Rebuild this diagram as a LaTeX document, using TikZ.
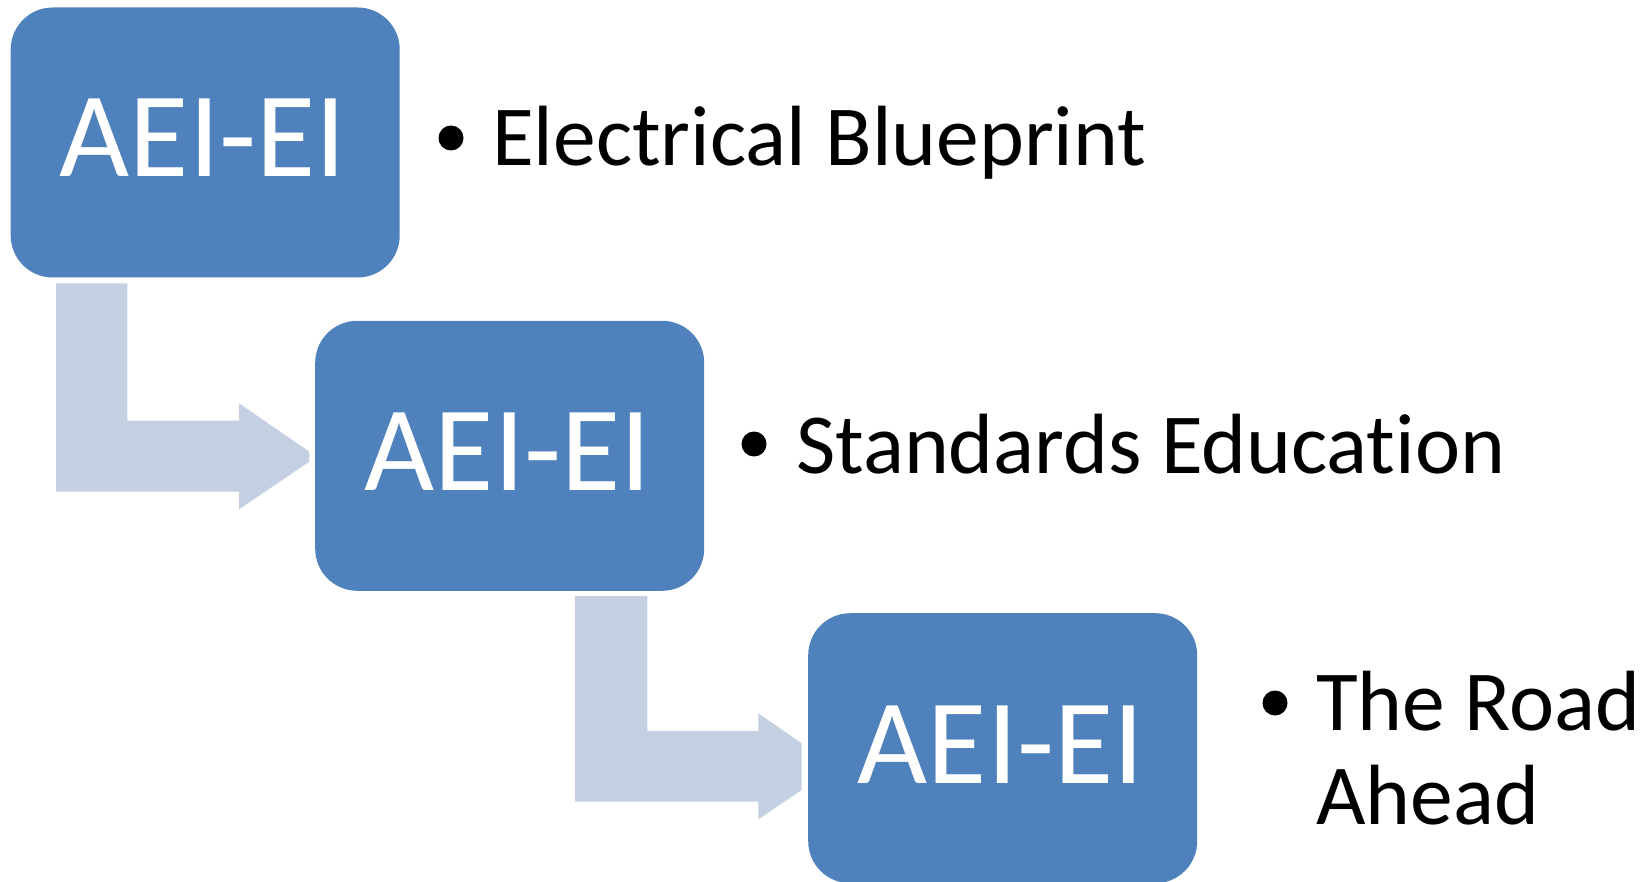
\documentclass[tikz,border=0pt]{standalone}
\usepackage{fontspec}
\setmainfont{Carlito}[Ligatures=NoCommon]
\definecolor{boxblue}{RGB}{79,129,189}
\definecolor{arrowblue}{RGB}{196,207,226}
\begin{document}
\begin{tikzpicture}[x=1pt,y=-1pt,
  stagebox/.style={fill=boxblue, rounded corners=42pt, minimum width=389pt, minimum height=270pt, inner sep=0pt, draw=none, anchor=north west},
  boxlabel/.style={text=white, font=\fontsize{121}{121}\selectfont, inner sep=0pt, anchor=base},
  bullettext/.style={font=\fontsize{85.5}{94}\selectfont, inner sep=0pt, anchor=base west},
  bulletdot/.style={circle, fill=black, minimum size=25pt, inner sep=0pt},
  bentarrow/.style={fill=arrowblue}]
\useasboundingbox (0,0) rectangle (1643,882);
% bent arrows
\fill[bentarrow] (56,283.3) -- (127.3,283.3) -- (127.3,420.7) -- (239,420.7) -- (239,403.3) -- (309.3,451.7) -- (309.3,461.7) -- (239,509.3) -- (239,491.7) -- (56,491.7) -- cycle;
\fill[bentarrow] (575,596) -- (647.3,596) -- (647.3,731) -- (758.3,731) -- (758.3,713.3) -- (801.7,743.3) -- (801.7,790) -- (758.3,819.3) -- (758.3,801.7) -- (575,801.7) -- cycle;
% boxes
\node[stagebox] (b1) at (10.5,7.3) {};
\node[stagebox] (b2) at (315,320.6) {};
\node[stagebox] (b3) at (808,613) {};
\node[boxlabel] (l1) at (203,177) {AEI-EI};
\node[boxlabel] (l2) at (508,490.6) {AEI-EI};
\node[boxlabel] (l3) at (1001,783) {AEI-EI};
% bullets
\node[bulletdot] (d1) at (451,138) {};
\node[bullettext] (t1) at (492,165.5) {Electrical Blueprint};
\node[bulletdot] (d2) at (754,444) {};
\node[bullettext] (t2) at (796,473.6) {Standards Education};
\node[bulletdot] (d3) at (1275,703) {};
\node[bullettext] (t3a) at (1316,730) {The Road};
\node[bullettext] (t3b) at (1316,824) {Ahead};
\end{tikzpicture}
\end{document}
